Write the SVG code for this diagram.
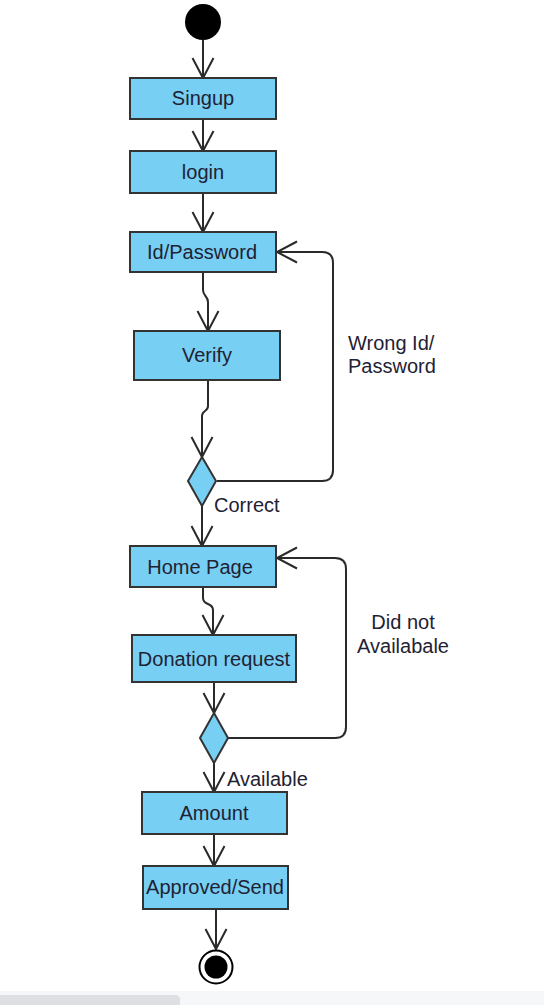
<svg xmlns="http://www.w3.org/2000/svg" width="544" height="1005" viewBox="0 0 544 1005">
  <style>
    .act { fill: #78cff4; stroke: #333; stroke-width: 2; }
    .lbl { font-family: "Liberation Sans", Arial, sans-serif; font-size: 20px; fill: #1f2233; }
    .mid { text-anchor: middle; }
    .flow { fill: none; stroke: #2a2a2a; stroke-width: 2; marker-end: url(#open); }
    .loop { fill: none; stroke: #2a2a2a; stroke-width: 2; marker-end: url(#open); }
  </style>
  <defs>
    <marker id="open" markerUnits="userSpaceOnUse" markerWidth="26" markerHeight="26" viewBox="-23 -13 26 26" refX="0" refY="0" orient="auto" overflow="visible">
      <path d="M-20,-10.5 L0,0 L-20,10.5" fill="none" stroke="#2a2a2a" stroke-width="2"/>
    </marker>
  </defs>
  <rect width="544" height="1005" fill="#ffffff"/>

  <!-- connectors -->
  <g id="connectors">
    <path class="flow" d="M203,40 L203,78"/>
    <path class="flow" d="M203,119 L203,151"/>
    <path class="flow" d="M203,193 L203,232"/>
    <path class="flow" d="M203,272 L203,290 C203,296 208,296 208,302 L208,331"/>
    <path class="flow" d="M208,380 L208,406 C208,412 202,410 202,416 L202,457"/>
    <path class="loop" d="M217,481 L322,481 Q333,481 333,470 L333,263 Q333,252 322,252 L277,252"/>
    <path class="flow" d="M202,506 L202,546"/>
    <path class="flow" d="M203,587 L203,598 C203,606 213,602 213,610 L213,635"/>
    <path class="flow" d="M214,682 L214,713"/>
    <path class="loop" d="M228,738 L335,738 Q346,738 346,727 L346,569 Q346,558 335,558 L277,558"/>
    <path class="flow" d="M214,763 L214,792"/>
    <path class="flow" d="M214,834 L214,866"/>
    <path class="flow" d="M216,909 L216,949"/>
  </g>

  <!-- start -->
  <g id="start">
    <circle cx="203" cy="22" r="18" fill="#000"/>
  </g>

  <g id="singup">
    <rect class="act" x="130" y="78" width="146" height="41"/>
    <text class="lbl mid" x="203" y="105">Singup</text>
  </g>

  <g id="login">
    <rect class="act" x="130" y="151" width="146" height="42"/>
    <text class="lbl mid" x="203" y="179">login</text>
  </g>

  <g id="idpassword">
    <rect class="act" x="130" y="232" width="146" height="40"/>
    <text class="lbl mid" x="202" y="259">Id/Password</text>
  </g>

  <g id="verify">
    <rect class="act" x="134" y="331" width="146" height="49"/>
    <text class="lbl mid" x="207" y="362">Verify</text>
  </g>

  <g id="decision1">
    <polygon class="act" points="202,457 216,481 202,506 188,481"/>
  </g>

  <g id="label-wrong">
    <text class="lbl" x="348" y="350">Wrong Id/</text>
    <text class="lbl" x="348" y="373">Password</text>
  </g>

  <g id="label-correct">
    <text class="lbl" x="214" y="512">Correct</text>
  </g>

  <g id="homepage">
    <rect class="act" x="130" y="546" width="146" height="41"/>
    <text class="lbl mid" x="200" y="574">Home Page</text>
  </g>

  <g id="donation">
    <rect class="act" x="132" y="635" width="164" height="47"/>
    <text class="lbl mid" x="214" y="666">Donation request</text>
  </g>

  <g id="label-notavailable">
    <text class="lbl mid" x="403" y="629">Did not</text>
    <text class="lbl mid" x="403" y="653">Availabale</text>
  </g>

  <g id="decision2">
    <polygon class="act" points="214,713 228,738 214,763 200,738"/>
  </g>

  <g id="label-available">
    <text class="lbl" x="227" y="786">Available</text>
  </g>

  <g id="amount">
    <rect class="act" x="142" y="792" width="145" height="42"/>
    <text class="lbl mid" x="214" y="820">Amount</text>
  </g>

  <g id="approved">
    <rect class="act" x="143" y="866" width="145" height="43"/>
    <text class="lbl mid" x="215" y="894">Approved/Send</text>
  </g>

  <!-- final -->
  <g id="end">
    <circle cx="216" cy="967" r="16.5" fill="#fff" stroke="#000" stroke-width="2"/>
    <circle cx="216" cy="967" r="11.5" fill="#000"/>
  </g>

  <!-- bottom strip -->
  <rect x="0" y="991" width="544" height="14" fill="#f6f7f9"/>
  <path d="M0,995 L175,995 Q180,995 180,1000 L180,1005 L0,1005 Z" fill="#dedfe2"/>
</svg>
